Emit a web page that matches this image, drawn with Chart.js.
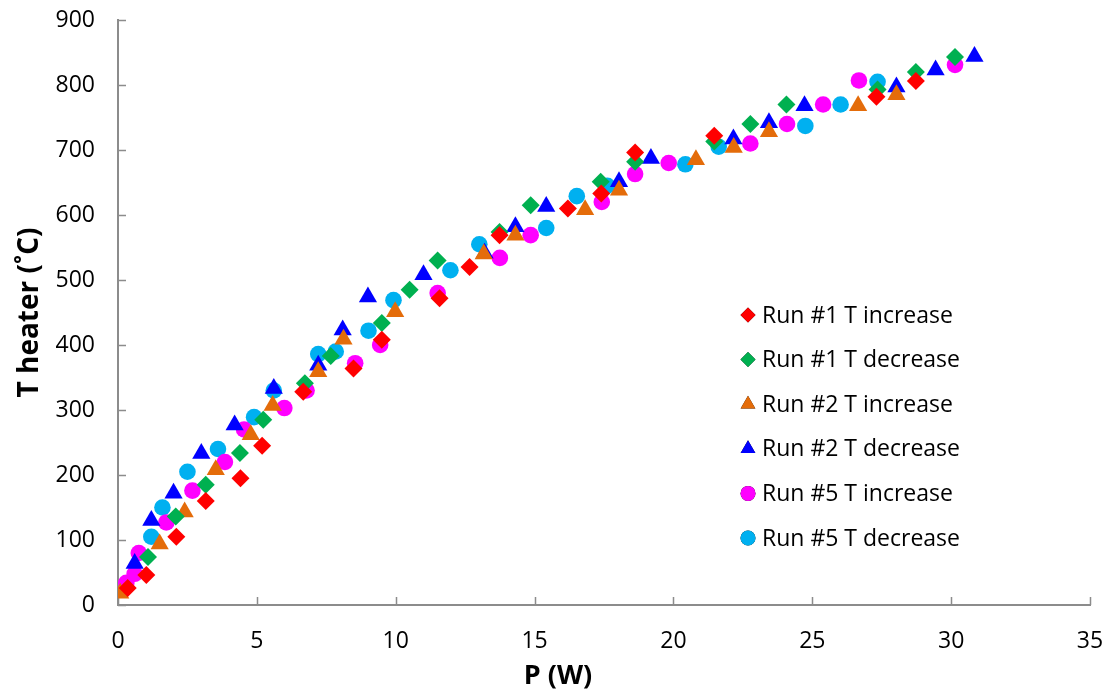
<!DOCTYPE html>
<html>
<head>
<meta charset="utf-8">
<script src="https://cdn.jsdelivr.net/npm/chart.js@4.4.1/dist/chart.umd.min.js"></script>
<style>
  html, body { margin: 0; padding: 0; background: #fff; }
  #wrap { width: 1114px; height: 692px; }
</style>
</head>
<body>
<div id="wrap"><canvas id="chart" width="1114" height="692"></canvas></div>
<script>
// series names, in legend order
const seriesNames = [
  'Run #1 T increase', 'Run #1 T decrease',
  'Run #2 T increase', 'Run #2 T decrease',
  'Run #5 T increase', 'Run #5 T decrease'
];
const xTitle = 'P (W)';
const yTitle = 'T heater (˚C)';

// [P (W), T heater (C)]
const run1Inc = [[0.35,26],[1.02,46],[2.1,105],[3.16,160],[4.41,195],[5.19,245],[6.67,328],[8.48,364],
  [9.5,408],[11.58,472],[12.66,520],[13.74,569],[16.2,610],[17.4,633],[18.62,696],[21.47,722],[27.31,782],[28.73,806]];
const run1Dec = [[1.08,74],[2.08,136],[3.16,185],[4.39,234],[5.23,285],[6.73,341],[7.66,383],[9.5,434],
  [10.5,485],[11.51,530],[13.74,574],[14.86,615],[17.38,651],[18.62,682],[21.47,713],[22.77,740],[24.07,770],
  [27.35,793],[28.73,820],[30.14,843]];
const run2Inc = [[0.08,18],[1.5,94],[2.4,143],[3.52,208],[4.78,262],[5.57,307],[7.21,359],[8.12,409],
  [9.98,451],[13.17,540],[14.31,569],[16.82,608],[18.04,638],[20.81,685],[22.17,704],[23.44,728],[26.65,768],[28.03,785]];
const run2Dec = [[0.6,64],[1.2,130],[2.0,172],[3.0,233],[4.2,277],[5.61,333],[7.21,369],[8.09,423],
  [9.0,474],[11.0,508],[13.2,541],[14.31,582],[15.42,613],[18.04,651],[19.19,687],[22.16,717],[23.44,742],
  [24.72,768],[28.03,797],[29.44,823],[30.84,844]];
const run5Inc = [[0.3,34],[0.6,48],[0.75,80],[1.74,127],[2.68,176],[3.85,220],[4.54,270],[5.99,303],
  [6.79,330],[8.54,372],[9.44,400],[11.51,480],[13.75,534],[14.86,569],[17.42,620],[18.62,663],[19.83,680],
  [22.77,710],[24.09,740],[25.39,770],[26.68,807],[30.14,831]];
const run5Dec = [[1.2,105],[1.6,150],[2.5,205],[3.6,240],[4.9,289],[5.61,330],[7.21,386],[7.84,390],
  [9.02,422],[9.92,469],[11.97,515],[13.01,555],[15.42,580],[16.52,629],[17.62,645],[20.43,678],[21.63,705],
  [24.75,737],[26.02,770],[27.35,805]];

const xTickValues = [0, 5, 10, 15, 20, 25, 30, 35];
const yTickValues = [0, 100, 200, 300, 400, 500, 600, 700, 800, 900];

const allRuns = [run1Inc, run1Dec, run2Inc, run2Dec, run5Inc, run5Dec];
const colors = ['#ff0000', '#00b050', '#e46c0a', '#0000ff', '#ff00ff', '#00b0f0'];
const shapes = ['rectRot', 'rectRot', 'triangle', 'triangle', 'circle', 'circle'];
const sizes = [9, 9, 10.5, 10.5, 8.3, 8.3];

const axisColor = '#8c8c8c';
const fontFamily = '"Open Sans", "Noto Sans", sans-serif';

// ticks drawn inside the plot, like the original
const insideTicks = {
  id: 'insideTicks',
  beforeDatasetsDraw(chart) {
    const { ctx, chartArea: a, scales: { x, y } } = chart;
    ctx.save();
    ctx.strokeStyle = axisColor;
    ctx.lineWidth = 1.5;
    ctx.beginPath();
    x.ticks.forEach(t => {
      const px = Math.round(x.getPixelForValue(t.value)) + 0.5;
      ctx.moveTo(px, a.bottom);
      ctx.lineTo(px, a.bottom - 8);
    });
    y.ticks.forEach(t => {
      const py = Math.round(y.getPixelForValue(t.value)) + 0.5;
      ctx.moveTo(a.left, py);
      ctx.lineTo(a.left + 8, py);
    });
    ctx.stroke();
    ctx.restore();
  }
};

// legend inside the plot area, and the x title (sits left of centre in the original)
const innerLegend = {
  id: 'innerLegend',
  afterDraw(chart) {
    const { ctx } = chart;
    const left = 748, top = 315, step = 44.6;
    ctx.save();
    ctx.font = '23px ' + fontFamily;
    ctx.textBaseline = 'middle';
    chart.data.datasets.forEach((ds, i) => {
      const cy = top + i * step;
      Chart.helpers.drawPoint(ctx, {
        pointStyle: ds.pointStyle,
        radius: ds.pointStyle === 'triangle' ? 8.5 : 7.5,
        borderWidth: 0,
        rotation: 0
      }, left, cy);
      ctx.fillStyle = ds.backgroundColor;
      ctx.fill();
      ctx.fillStyle = '#000';
      ctx.fillText(ds.label, left + 14, cy + 1);
    });

    ctx.font = 'bold 27px ' + fontFamily;
    ctx.textAlign = 'center';
    ctx.fillText(xTitle, 558, 676);
    ctx.restore();
  }
};

new Chart(document.getElementById('chart'), {
  type: 'scatter',
  data: {
    datasets: allRuns.map((run, i) => ({
      label: seriesNames[i],
      data: run.map(p => ({ x: p[0], y: p[1] })),
      pointStyle: shapes[i],
      pointRadius: sizes[i],
      backgroundColor: colors[i],
      borderColor: colors[i],
      borderWidth: 0
    }))
  },
  options: {
    responsive: false,
    animation: false,
    layout: { padding: { left: 0, top: 20, right: 24, bottom: 0 } },
    plugins: {
      legend: { display: false },
      tooltip: { enabled: false }
    },
    scales: {
      x: {
        type: 'linear',
        min: 0,
        max: 35,
        afterBuildTicks: s => { s.ticks = xTickValues.map(v => ({ value: v })); },
        afterFit: s => { s.height = 87; s.paddingLeft = 0; s.paddingRight = 0; },
        grid: { display: false },
        border: { display: true, color: axisColor, width: 2 },
        ticks: { color: '#000', padding: 15, font: { family: fontFamily, size: 23 } }
      },
      y: {
        type: 'linear',
        min: 0,
        max: 900,
        afterBuildTicks: s => { s.ticks = yTickValues.map(v => ({ value: v })); },
        afterFit: s => { s.width = 118; s.paddingTop = 0; s.paddingBottom = 0; },
        grid: { display: false },
        border: { display: true, color: axisColor, width: 2 },
        ticks: { color: '#000', padding: 15, font: { family: fontFamily, size: 23 } },
        title: {
          display: true,
          text: yTitle,
          color: '#000',
          padding: { top: 13, bottom: 0 },
          font: { family: fontFamily, size: 28, weight: 'bold' }
        }
      }
    }
  },
  plugins: [insideTicks, innerLegend]
});
</script>
</body>
</html>
